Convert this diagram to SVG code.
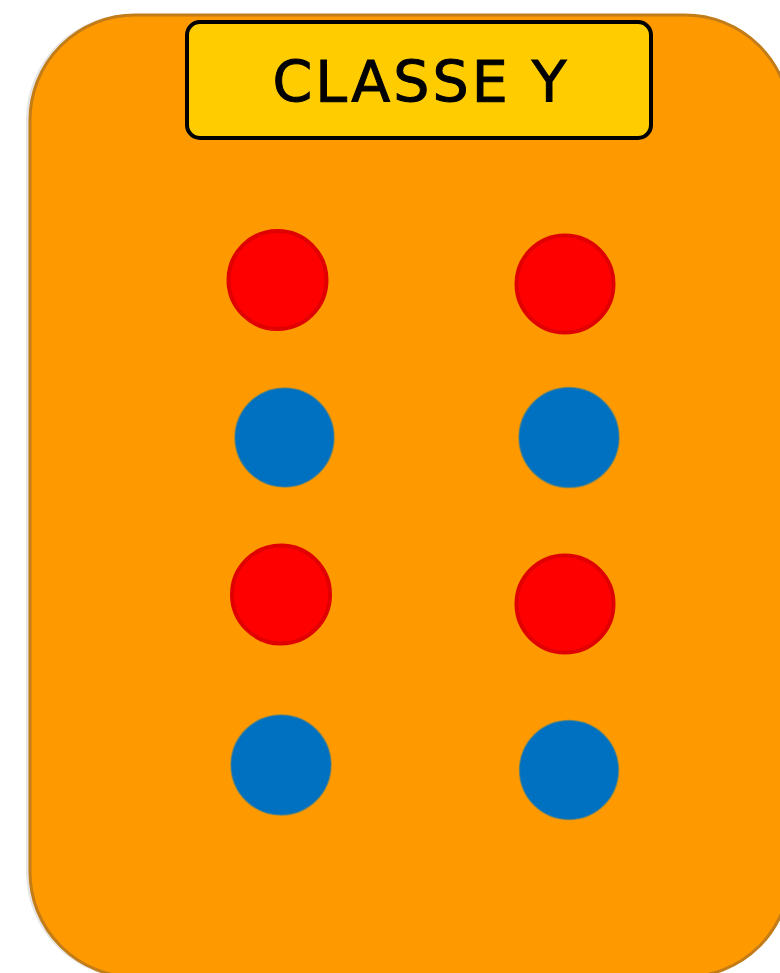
<svg xmlns="http://www.w3.org/2000/svg" width="780" height="973" viewBox="0 0 780 973">
<style>
.red{fill:#FF0000;stroke:#E00000;stroke-width:4}
.blue{fill:#0070C0;stroke:#3F7E8F;stroke-width:1.5;stroke-opacity:0.6}
.title{font-family:"DejaVu Sans",Verdana,sans-serif;font-size:57px;fill:#000000;stroke:#000000;stroke-width:1;letter-spacing:3px}
</style>
<rect width="780" height="973" fill="#FFFFFF"/>
<g id="container">
<rect x="26" y="14" width="764" height="964" rx="106" fill="#000000" fill-opacity="0.1"/>
<rect x="30" y="15" width="760" height="962" rx="105" fill="#FF9900" stroke="#C27C18" stroke-width="3"/>
</g>
<g id="title">
<rect x="187" y="22" width="464" height="116" rx="13" fill="#FFCC00" stroke="#000000" stroke-width="4"/>
<text class="title" x="421" y="102" text-anchor="middle">CLASSE Y</text>
</g>
<g id="r1"><circle class="red" cx="277.5" cy="280" r="49"/></g>
<g id="r2"><circle class="red" cx="565" cy="284" r="48.5"/></g>
<g id="b1"><circle class="blue" cx="284.5" cy="437.5" r="49.5"/></g>
<g id="b2"><circle class="blue" cx="569" cy="437.5" r="50"/></g>
<g id="r3"><circle class="red" cx="281" cy="594.5" r="49"/></g>
<g id="r4"><circle class="red" cx="565" cy="604" r="48.5"/></g>
<g id="b3"><circle class="blue" cx="281" cy="765" r="50"/></g>
<g id="b4"><circle class="blue" cx="569" cy="770" r="49.5"/></g>
<g id="connectors"></g>
</svg>
